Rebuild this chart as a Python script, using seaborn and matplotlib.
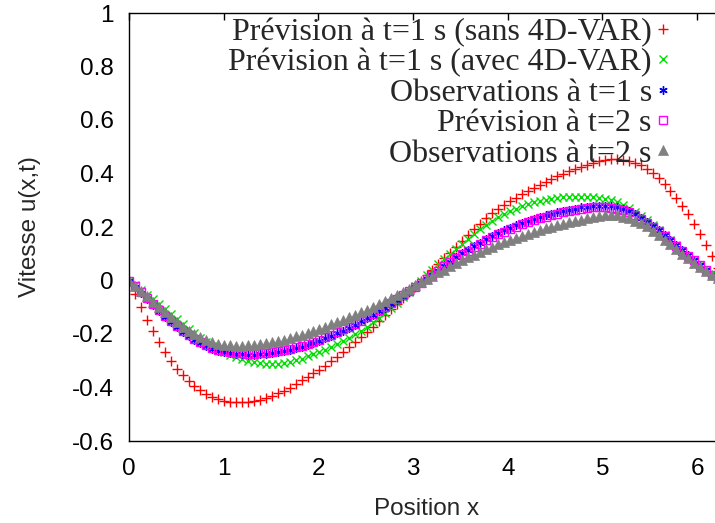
import numpy as np
import matplotlib
matplotlib.use("Agg")
import matplotlib.pyplot as plt
from matplotlib.font_manager import FontProperties
import seaborn as sns

# ---------------- data ----------------
position_x = np.linspace(0, 2 * np.pi, 101)

prev_t1_sans = [
    0.000, -0.050, -0.099, -0.146, -0.190, -0.230, -0.267, -0.300, -0.329, -0.354,
    -0.375, -0.394, -0.410, -0.424, -0.435, -0.443, -0.449, -0.453, -0.455, -0.456,
    -0.454, -0.450, -0.445, -0.439, -0.431, -0.422, -0.412, -0.400, -0.386, -0.372,
    -0.360, -0.347, -0.333, -0.318, -0.302, -0.285, -0.267, -0.248, -0.230, -0.212,
    -0.193, -0.172, -0.151, -0.130, -0.108, -0.087, -0.066, -0.044, -0.023, -0.002,
    0.020,
    0.041, 0.062, 0.083, 0.104, 0.126, 0.148, 0.170, 0.192, 0.213, 0.233,
    0.251, 0.267, 0.282, 0.296, 0.310, 0.323, 0.335, 0.347, 0.358, 0.369,
    0.380, 0.390, 0.400, 0.409, 0.418, 0.426, 0.433, 0.440, 0.446, 0.450,
    0.453, 0.453, 0.451, 0.447, 0.440, 0.430, 0.417, 0.401, 0.382, 0.360,
    0.336, 0.309, 0.280, 0.248, 0.213, 0.175, 0.134, 0.090, 0.045, 0.000,
]

prev_t1_avec = [
    0.000, -0.018, -0.035, -0.053, -0.071, -0.089, -0.108, -0.126, -0.144, -0.162,
    -0.180, -0.197, -0.214, -0.229, -0.243, -0.256, -0.268, -0.278, -0.287, -0.295,
    -0.301, -0.306, -0.310, -0.312, -0.313, -0.312, -0.310, -0.305, -0.299, -0.292,
    -0.284, -0.276, -0.267, -0.258, -0.248, -0.237, -0.226, -0.214, -0.201, -0.188,
    -0.173, -0.157, -0.140, -0.122, -0.103, -0.083, -0.063, -0.042, -0.021, 0.000,
    0.020,
    0.040, 0.060, 0.080, 0.100, 0.119, 0.138, 0.156, 0.174, 0.191, 0.207,
    0.222, 0.236, 0.248, 0.259, 0.269, 0.278, 0.286, 0.292, 0.298, 0.302,
    0.306, 0.309, 0.311, 0.313, 0.314, 0.314, 0.314, 0.313, 0.310, 0.306,
    0.300, 0.292, 0.282, 0.270, 0.256, 0.241, 0.225, 0.208, 0.190, 0.171,
    0.152, 0.132, 0.112, 0.093, 0.075, 0.058, 0.041, 0.024, 0.010, 0.000,
]

obs_t1 = [
    0.000, -0.023, -0.046, -0.069, -0.091, -0.113, -0.135, -0.155, -0.174, -0.191,
    -0.207, -0.222, -0.235, -0.246, -0.255, -0.262, -0.267, -0.271, -0.274, -0.276,
    -0.277, -0.277, -0.276, -0.274, -0.272, -0.269, -0.265, -0.260, -0.254, -0.248,
    -0.241, -0.233, -0.225, -0.216, -0.207, -0.197, -0.187, -0.176, -0.165, -0.153,
    -0.141, -0.128, -0.115, -0.101, -0.087, -0.072, -0.057, -0.042, -0.026, -0.011,
    0.004,
    0.020, 0.037, 0.054, 0.070, 0.086, 0.101, 0.115, 0.128, 0.141, 0.154,
    0.166, 0.177, 0.187, 0.197, 0.206, 0.215, 0.223, 0.230, 0.237, 0.243,
    0.249, 0.255, 0.260, 0.265, 0.269, 0.273, 0.276, 0.278, 0.279, 0.279,
    0.277, 0.273, 0.267, 0.259, 0.249, 0.235, 0.220, 0.205, 0.188, 0.170,
    0.151, 0.132, 0.113, 0.094, 0.076, 0.058, 0.039, 0.021, 0.008, 0.000,
]

prev_t2 = [
    0.000, -0.022, -0.044, -0.066, -0.088, -0.110, -0.132, -0.152, -0.170, -0.187,
    -0.203, -0.218, -0.231, -0.242, -0.251, -0.258, -0.263, -0.267, -0.270, -0.272,
    -0.273, -0.273, -0.272, -0.270, -0.268, -0.265, -0.261, -0.256, -0.250, -0.244,
    -0.237, -0.229, -0.221, -0.212, -0.203, -0.193, -0.183, -0.172, -0.161, -0.150,
    -0.138, -0.125, -0.112, -0.098, -0.084, -0.070, -0.055, -0.040, -0.025, -0.010,
    0.005,
    0.021, 0.037, 0.053, 0.069, 0.084, 0.098, 0.111, 0.124, 0.137, 0.150,
    0.161, 0.172, 0.182, 0.192, 0.201, 0.210, 0.218, 0.225, 0.232, 0.238,
    0.244, 0.250, 0.255, 0.260, 0.264, 0.268, 0.271, 0.273, 0.274, 0.274,
    0.272, 0.268, 0.262, 0.255, 0.245, 0.230, 0.216, 0.201, 0.184, 0.166,
    0.148, 0.130, 0.111, 0.093, 0.075, 0.057, 0.038, 0.020, 0.008, 0.000,
]

obs_t2 = [
    0.000, -0.020, -0.040, -0.059, -0.079, -0.099, -0.118, -0.137, -0.155, -0.172,
    -0.187, -0.200, -0.212, -0.222, -0.230, -0.236, -0.240, -0.242, -0.243, -0.243,
    -0.242, -0.240, -0.237, -0.234, -0.230, -0.226, -0.221, -0.215, -0.209, -0.202,
    -0.195, -0.188, -0.180, -0.172, -0.164, -0.156, -0.147, -0.138, -0.129, -0.119,
    -0.109, -0.099, -0.088, -0.077, -0.066, -0.054, -0.042, -0.030, -0.018, -0.006,
    0.006,
    0.018, 0.030, 0.041, 0.053, 0.064, 0.075, 0.086, 0.096, 0.106, 0.116,
    0.126, 0.135, 0.144, 0.152, 0.160, 0.168, 0.175, 0.182, 0.189, 0.195,
    0.201, 0.207, 0.212, 0.217, 0.222, 0.227, 0.232, 0.236, 0.240, 0.245,
    0.246, 0.244, 0.238, 0.232, 0.224, 0.214, 0.202, 0.186, 0.170, 0.153,
    0.136, 0.118, 0.100, 0.083, 0.067, 0.051, 0.036, 0.021, 0.009, 0.000,
]

series_labels = [
    "Prévision à t=1 s (sans 4D-VAR)",
    "Prévision à t=1 s (avec 4D-VAR)",
    "Observations à t=1 s",
    "Prévision à t=2 s",
    "Observations à t=2 s",
]

x_ticks = [0, 1, 2, 3, 4, 5, 6]
x_tick_labels = ["0", "1", "2", "3", "4", "5", "6"]
y_ticks = [-0.6, -0.4, -0.2, 0, 0.2, 0.4, 0.6, 0.8, 1]
y_tick_labels = ["-0.6", "-0.4", "-0.2", "0", "0.2", "0.4", "0.6", "0.8", "1"]

# ---------------- style ----------------
sns.set_style("white")
plt.rcParams["font.family"] = ["Liberation Sans", "DejaVu Sans"]

W, H = 715, 523
fig = plt.figure(figsize=(W / 100, H / 100), dpi=100)
ax = fig.add_axes([129 / W, 82 / H, (724 - 129) / W, (441 - 13) / H])

styles = [
    dict(marker="+", color="#ff0000", mec="#ff0000", markersize=7, mew=1.0),
    dict(marker="x", color="#00dd00", mec="#00dd00", markersize=6, mew=1.0),
    dict(marker=(6, 2, 0), color="#0000ff", mec="#0000ff", markersize=6, mew=1.0),
    dict(marker="s", color="#ff00ff", mec="#ff00ff", markerfacecolor="none",
         markersize=6, mew=1.0),
    dict(marker="^", color="#808080", mec="#808080", markersize=6.5, mew=0.5),
]
all_series = [prev_t1_sans, prev_t1_avec, obs_t1, prev_t2, obs_t2]

for vals, lab, kw in zip(all_series, series_labels, styles):
    sns.lineplot(x=position_x, y=vals, ax=ax, label=lab, linestyle="",
                 estimator=None, sort=False, **kw)

ax.set_xlim(0, 2 * np.pi)
ax.set_ylim(-0.6, 1)
ax.set_xticks(x_ticks)
ax.set_xticklabels(x_tick_labels)
ax.set_yticks(y_ticks)
ax.set_yticklabels(y_tick_labels)
ax.tick_params(direction="in", length=5, width=1, top=True, right=True,
               labelsize=17.5, colors="black")
ax.tick_params(axis="x", pad=12)
ax.tick_params(axis="y", pad=11)
for s in ax.spines.values():
    s.set_linewidth(1.0)
    s.set_color("black")

ax.set_xlabel("Position x", fontsize=17.5, labelpad=13)
ax.set_ylabel("Vitesse u(x,t)", fontsize=17.5, labelpad=22)

handles, labels = ax.get_legend_handles_labels()
leg = ax.legend(handles, labels, markerfirst=False, frameon=False,
                prop=FontProperties(family="Liberation Serif", size=23),
                loc="upper right", bbox_to_anchor=(671 / W, 1 - 18 / H),
                bbox_transform=fig.transFigure, borderaxespad=0, borderpad=0,
                handlelength=0.5, handletextpad=0.1, labelspacing=0.03)

fig.savefig("out.png", dpi=100)
